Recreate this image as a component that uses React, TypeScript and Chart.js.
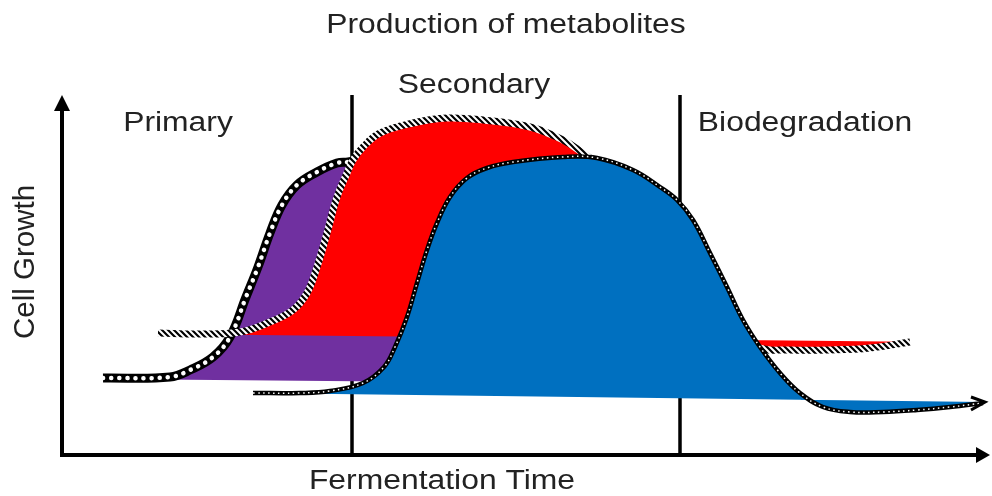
import React, { useEffect, useRef } from "react";
import { Chart, registerables } from "chart.js";

Chart.register(...registerables);

// ---- text ----
const TITLE = "Production of metabolites";
const X_TITLE = "Fermentation Time";
const Y_TITLE = "Cell Growth";
const PHASES = ["Primary", "Secondary", "Biodegradation"];
const PHASE_LABEL_TIME = [116, 412, 743];
const PHASE_LABEL_LEVEL = [324, 362, 324];
const PHASE_BOUNDARIES = [290, 618];

// ---- axis ranges (arbitrary units) ----
const TIME_MAX = 928;
const GROWTH_MAX = 360;

// ---- primary metabolite curve (purple) ----
const primaryTime = [41, 108, 128, 151, 168, 184, 196, 208, 220, 235, 255, 275, 286, 318, 358, 378];
const primaryGrowth = [77, 78, 85, 98, 118, 158, 188, 222, 250, 270, 283, 292, 293, 298, 299, 295];
const primaryBaseTime = [38, 388];
const primaryBaseGrowth = [76, 73];

// ---- secondary metabolite curve (red) ----
const secondaryTime = [96, 138, 178, 208, 231, 245, 255, 265, 275, 285, 291, 301, 318, 351, 385, 421, 468, 501, 521, 540, 578, 608, 638, 658, 678, 695, 728, 768, 808, 848];
const secondaryGrowth = [122, 121, 123, 133, 145, 162, 188, 222, 258, 282, 295, 308, 322, 332, 337, 335, 328, 315, 302, 289, 273, 248, 208, 168, 128, 108, 105, 105, 107, 113];
const secondaryBaseTime = [88, 868];
const secondaryBaseGrowth = [121, 113];

// ---- cell growth curve (blue) ----
const cellTime = [191, 238, 268, 301, 322, 333, 345, 355, 365, 375, 388, 405, 425, 451, 501, 535, 571, 598, 615, 631, 648, 665, 681, 698, 718, 738, 761, 788, 821, 855, 888, 921];
const cellGrowth = [62, 62, 64, 72, 88, 108, 138, 172, 205, 232, 258, 277, 287, 293, 298, 297, 285, 268, 255, 235, 202, 168, 135, 108, 82, 62, 48, 43, 43, 45, 48, 52];
const cellBaseTime = [188, 928];
const cellBaseGrowth = [62, 53];

const PURPLE = "#7030A0";
const RED = "#FF0000";
const BLUE = "#0070C0";
const INK = "#222222";
const FONT = '"Liberation Sans", Arial, sans-serif';

function pts(xs: number[], ys: number[]) {
  return xs.map((x, i) => ({ x, y: ys[i] }));
}

function makeHatch(): CanvasPattern | string {
  const c = document.createElement("canvas");
  c.width = 6;
  c.height = 6;
  const g = c.getContext("2d");
  if (!g) return "#000";
  g.fillStyle = "#fff";
  g.fillRect(0, 0, 6, 6);
  g.strokeStyle = "#000";
  g.lineWidth = 2.2;
  g.beginPath();
  g.moveTo(-1, -1);
  g.lineTo(7, 7);
  g.moveTo(5, -1);
  g.lineTo(7, 1);
  g.moveTo(-1, 5);
  g.lineTo(1, 7);
  g.stroke();
  return g.createPattern(c, "repeat") || "#000";
}

function stretchedText(
  ctx: CanvasRenderingContext2D,
  text: string,
  cx: number,
  baseline: number,
  size: number,
  sx: number
) {
  ctx.save();
  ctx.translate(cx, baseline);
  ctx.scale(sx, 1);
  ctx.font = `${size}px ${FONT}`;
  ctx.fillStyle = INK;
  ctx.textAlign = "center";
  ctx.textBaseline = "alphabetic";
  ctx.fillText(text, 0, 0);
  ctx.restore();
}

const diagramPlugin = {
  id: "diagram",
  beforeDatasetsDraw(chart: any) {
    const ctx: CanvasRenderingContext2D = chart.ctx;
    const { left, right, top, bottom } = chart.chartArea;
    const xs = chart.scales.x;
    ctx.save();
    ctx.strokeStyle = "#000";
    // phase boundaries
    ctx.lineWidth = 3.5;
    PHASE_BOUNDARIES.forEach((t) => {
      const px = xs.getPixelForValue(t);
      ctx.beginPath();
      ctx.moveTo(px, top);
      ctx.lineTo(px, bottom);
      ctx.stroke();
    });
    // axes
    ctx.lineWidth = 4;
    ctx.beginPath();
    ctx.moveTo(left, bottom + 2);
    ctx.lineTo(left, top + 12);
    ctx.moveTo(left - 2, bottom);
    ctx.lineTo(right - 10, bottom);
    ctx.stroke();
    ctx.fillStyle = "#000";
    ctx.beginPath();
    ctx.moveTo(left, top);
    ctx.lineTo(left - 8, top + 16);
    ctx.lineTo(left + 8, top + 16);
    ctx.closePath();
    ctx.fill();
    ctx.beginPath();
    ctx.moveTo(right, bottom);
    ctx.lineTo(right - 14, bottom - 8);
    ctx.lineTo(right - 14, bottom + 8);
    ctx.closePath();
    ctx.fill();
    ctx.restore();
  },
  afterDatasetsDraw(chart: any) {
    const ctx: CanvasRenderingContext2D = chart.ctx;
    const xs = chart.scales.x;
    const ys = chart.scales.y;
    // arrow head at end of cell growth curve
    const n = cellTime.length;
    const ex = xs.getPixelForValue(cellTime[n - 1]);
    const ey = ys.getPixelForValue(cellGrowth[n - 1]);
    ctx.save();
    ctx.strokeStyle = "#000";
    ctx.lineWidth = 3;
    ctx.lineJoin = "miter";
    ctx.beginPath();
    ctx.moveTo(ex - 12, ey - 6);
    ctx.lineTo(ex + 2, ey - 1);
    ctx.lineTo(ex - 12, ey + 7);
    ctx.stroke();
    ctx.restore();

    // texts
    stretchedText(ctx, TITLE, 506, 33, 27, 1.18);
    stretchedText(ctx, X_TITLE, 442, 489, 27, 1.18);
    PHASES.forEach((p, i) => {
      stretchedText(
        ctx,
        p,
        xs.getPixelForValue(PHASE_LABEL_TIME[i]),
        ys.getPixelForValue(PHASE_LABEL_LEVEL[i]),
        27,
        1.18
      );
    });
    ctx.save();
    ctx.translate(34, 262);
    ctx.rotate(-Math.PI / 2);
    ctx.font = `29.5px ${FONT}`;
    ctx.fillStyle = INK;
    ctx.textAlign = "center";
    ctx.textBaseline = "alphabetic";
    ctx.fillText(Y_TITLE, 0, 0);
    ctx.restore();
  },
};

export default function App() {
  const ref = useRef<HTMLCanvasElement | null>(null);

  useEffect(() => {
    if (!ref.current) return;
    const hatch = makeHatch();
    const smooth = { tension: 0.4, pointRadius: 0 };
    const base = { borderWidth: 0, borderColor: "rgba(0,0,0,0)", pointRadius: 0, fill: false, order: 100 };
    const chart = new Chart(ref.current, {
      type: "line",
      data: {
        datasets: [
          { ...base, data: pts(cellBaseTime, cellBaseGrowth) }, // 0
          { ...base, data: pts(secondaryBaseTime, secondaryBaseGrowth) }, // 1
          { ...base, data: pts(primaryBaseTime, primaryBaseGrowth) }, // 2
          {
            ...smooth,
            data: pts(primaryTime, primaryGrowth),
            borderColor: "#000",
            borderWidth: 9,
            backgroundColor: PURPLE,
            fill: 2,
            order: 60,
          }, // 3
          {
            ...smooth,
            data: pts(primaryTime, primaryGrowth),
            borderColor: "#fff",
            borderWidth: 4.5,
            borderDash: [0.1, 8],
            borderCapStyle: "round",
            fill: false,
            order: 55,
          }, // 4
          {
            ...smooth,
            data: pts(secondaryTime, secondaryGrowth),
            borderColor: hatch as any,
            borderWidth: 7,
            backgroundColor: RED,
            fill: 1,
            order: 40,
          }, // 5
          {
            ...smooth,
            data: pts(cellTime, cellGrowth),
            borderColor: "#000",
            borderWidth: 4.5,
            backgroundColor: BLUE,
            fill: 0,
            order: 20,
          }, // 6
          {
            ...smooth,
            data: pts(cellTime, cellGrowth),
            borderColor: "#fff",
            borderWidth: 1.5,
            borderDash: [1.5, 3.5],
            fill: false,
            order: 15,
          }, // 7
        ] as any,
      },
      options: {
        animation: false,
        responsive: false,
        maintainAspectRatio: false,
        events: [],
        layout: { padding: { left: 62, right: 2, top: 95, bottom: 41 } },
        scales: {
          x: { type: "linear", min: 0, max: TIME_MAX, display: false },
          y: { type: "linear", min: 0, max: GROWTH_MAX, display: false },
        },
        plugins: {
          legend: { display: false },
          tooltip: { enabled: false },
          title: { display: false },
        },
      },
      plugins: [diagramPlugin],
    });
    return () => chart.destroy();
  }, []);

  return (
    <div style={{ position: "absolute", left: 0, top: 0, width: 992, height: 496, background: "#fff" }}>
      <canvas ref={ref} width={992} height={496} />
    </div>
  );
}
